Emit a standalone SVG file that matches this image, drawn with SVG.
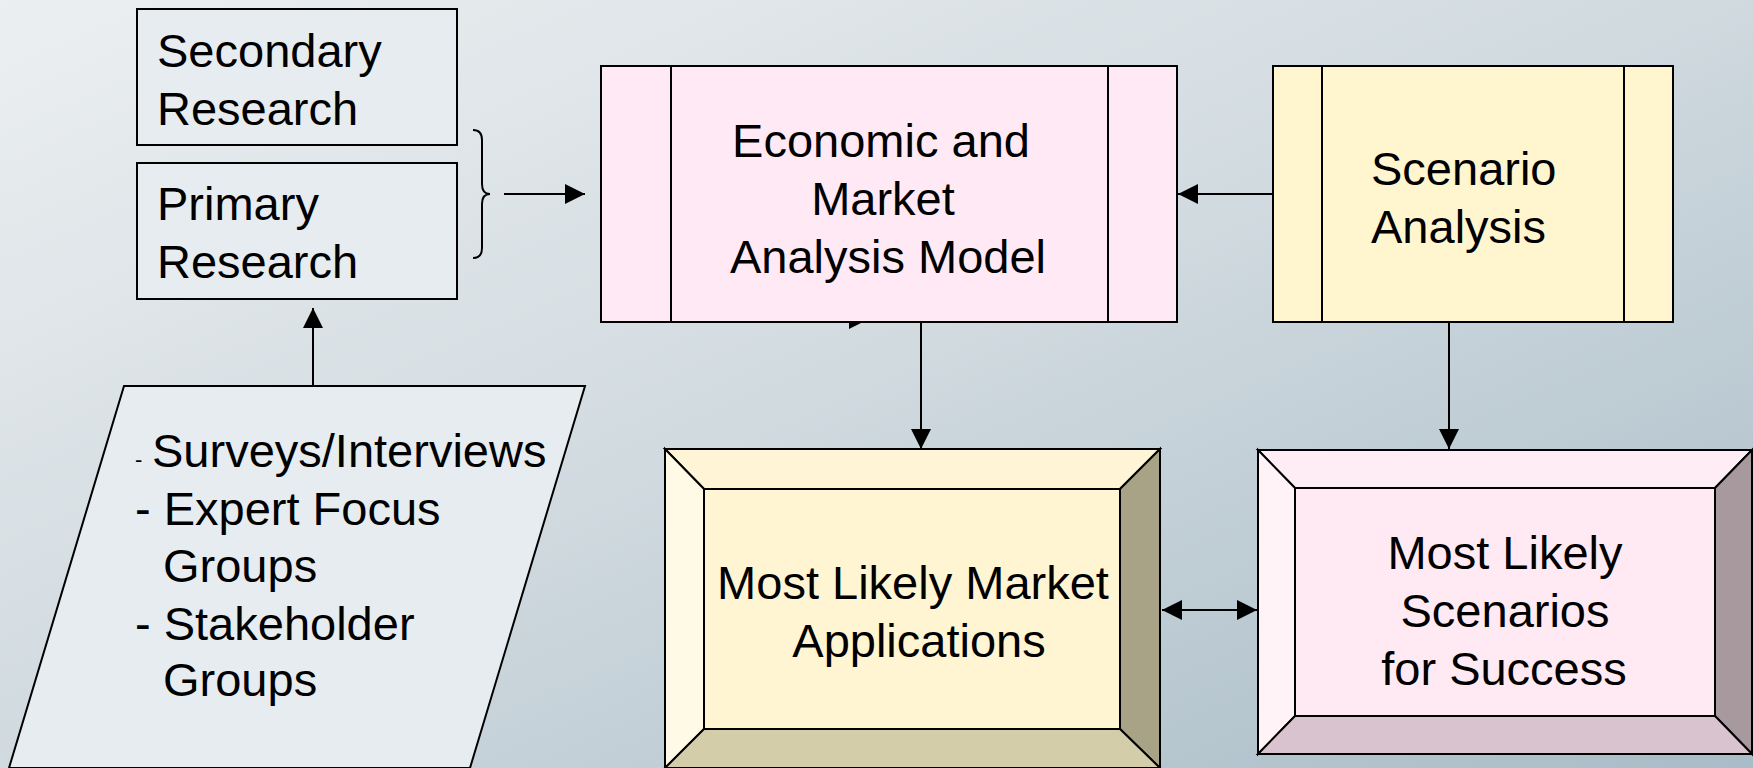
<svg xmlns="http://www.w3.org/2000/svg" width="1753" height="768" viewBox="0 0 1753 768">
<defs>
<linearGradient id="bg" x1="0" y1="0" x2="1" y2="1">
<stop offset="0" stop-color="#eceff1"/>
<stop offset="0.45" stop-color="#d3dce1"/>
<stop offset="1" stop-color="#a9bcc7"/>
</linearGradient>
<marker id="ah" viewBox="0 0 20 20" refX="20" refY="10" markerWidth="20" markerHeight="20" markerUnits="userSpaceOnUse" orient="auto-start-reverse">
<path d="M0,0 L20,10 L0,20 Z" fill="#000"/>
</marker>
<style>
.t{font-family:"Liberation Sans",Arial,sans-serif;font-size:47px;fill:#000}
.c{text-anchor:middle}
.box{stroke:#000;stroke-width:2}
.ln{stroke:#000;stroke-width:2;fill:none}
.grey{fill:#e6ecf0}
</style>
</defs>
<rect width="1753" height="768" fill="url(#bg)"/>

<g id="connectors">
<path class="ln" d="M473,130 Q482,130 482,140 L482,184 Q482,194 490,194 Q482,194 482,204 L482,248 Q482,258 473,258"/>
<line class="ln" x1="504" y1="194" x2="585" y2="194" marker-end="url(#ah)"/>
<line class="ln" x1="1273" y1="194" x2="1178" y2="194" marker-end="url(#ah)"/>
<line class="ln" x1="921" y1="322" x2="921" y2="449" marker-end="url(#ah)"/>
<line class="ln" x1="1449" y1="322" x2="1449" y2="449" marker-end="url(#ah)"/>
<line class="ln" x1="313" y1="386" x2="313" y2="308" marker-end="url(#ah)"/>
<line class="ln" x1="1162" y1="610" x2="1257" y2="610" marker-start="url(#ah)" marker-end="url(#ah)"/>
<polygon points="849,322 863,322 849,329" fill="#000"/>
</g>

<g id="secondary">
<rect class="box grey" x="137" y="9" width="320" height="136"/>
<text class="t" x="157" y="67">Secondary</text>
<text class="t" x="157" y="125">Research</text>
</g>

<g id="primary">
<rect class="box grey" x="137" y="163" width="320" height="136"/>
<text class="t" x="157" y="220">Primary</text>
<text class="t" x="157" y="278">Research</text>
</g>

<g id="methods">
<polygon class="box grey" points="124,386 585,386 470,768 9,768"/>
<text class="t" x="135" y="467" style="font-size:22px">-</text>
<text class="t" x="152" y="467">Surveys/Interviews</text>
<text class="t" x="135" y="525">- Expert Focus</text>
<text class="t" x="163" y="582">Groups</text>
<text class="t" x="135" y="640">- Stakeholder</text>
<text class="t" x="163" y="696">Groups</text>
</g>

<g id="economic">
<rect class="box" x="601" y="66" width="576" height="256" fill="#ffe9f4"/>
<line class="ln" x1="671" y1="66" x2="671" y2="322"/>
<line class="ln" x1="1108" y1="66" x2="1108" y2="322"/>
<text class="t c" x="881" y="157">Economic and</text>
<text class="t c" x="883" y="215">Market</text>
<text class="t c" x="888" y="273">Analysis Model</text>
</g>

<g id="scenario">
<rect class="box" x="1273" y="66" width="400" height="256" fill="#fff5cf"/>
<line class="ln" x1="1322" y1="66" x2="1322" y2="322"/>
<line class="ln" x1="1624" y1="66" x2="1624" y2="322"/>
<text class="t" x="1371" y="185">Scenario</text>
<text class="t" x="1371" y="243">Analysis</text>
</g>

<g id="market-applications">
<polygon class="box" points="665,449 1160,449 1120,489 704,489" fill="#fff5d6"/>
<polygon class="box" points="665,449 704,489 704,729 665,768" fill="#fffae6"/>
<polygon class="box" points="1160,449 1160,768 1120,729 1120,489" fill="#a8a386"/>
<polygon class="box" points="665,768 704,729 1120,729 1160,768" fill="#d4cdaa"/>
<rect class="box" x="704" y="489" width="416" height="240" fill="#fff5d2"/>
<text class="t c" x="913" y="599">Most Likely Market</text>
<text class="t c" x="919" y="657">Applications</text>
</g>

<g id="scenarios-success">
<polygon class="box" points="1258,450 1752,450 1715,488 1295,488" fill="#ffedf5"/>
<polygon class="box" points="1258,450 1295,488 1295,716 1258,754" fill="#fff3f8"/>
<polygon class="box" points="1752,450 1752,754 1715,716 1715,488" fill="#a8999f"/>
<polygon class="box" points="1258,754 1295,716 1715,716 1752,754" fill="#d8c3ce"/>
<rect class="box" x="1295" y="488" width="420" height="228" fill="#ffeaf3"/>
<text class="t c" x="1505" y="569">Most Likely</text>
<text class="t c" x="1505" y="627">Scenarios</text>
<text class="t c" x="1504" y="685">for Success</text>
</g>
</svg>
